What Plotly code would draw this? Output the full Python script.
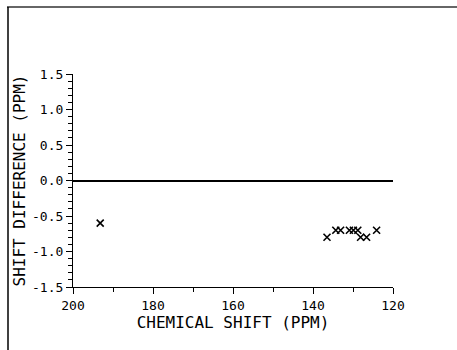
import plotly.graph_objects as go

# Chemical shift (ppm) and shift difference (ppm) of each resonance
chem_shift = [193.2, 136.5, 134.3, 133.1, 130.9, 129.9, 128.8, 128.1, 126.6, 124.1]
shift_diff = [-0.6, -0.8, -0.7, -0.7, -0.7, -0.7, -0.7, -0.8, -0.8, -0.7]

x_ticks = [200, 180, 160, 140, 120]
y_ticks = [1.5, 1.0, 0.5, 0.0, -0.5, -1.0, -1.5]

FONT = "DejaVu Sans Mono"

fig = go.Figure()
fig.add_trace(go.Scatter(
    x=chem_shift, y=shift_diff, mode="markers",
    marker=dict(symbol="x-thin", size=7, color="black",
                line=dict(width=1.6, color="black")),
    showlegend=False,
))

fig.update_layout(
    width=457, height=350,
    margin=dict(l=73, r=64, t=74, b=63),
    paper_bgcolor="white", plot_bgcolor="white",
    font=dict(family=FONT, color="black", size=12),
    xaxis=dict(
        range=[200, 120], tickvals=x_ticks, ticktext=[str(v) for v in x_ticks],
        showgrid=False, zeroline=False, showline=True, linecolor="black", linewidth=1.2,
        ticks="outside", ticklen=6, tickwidth=1.2, tickcolor="black",
        minor=dict(dtick=10, tick0=200, ticks="outside", ticklen=4, tickcolor="black"),
        title=dict(text="CHEMICAL SHIFT (PPM)", font=dict(family=FONT, size=16), standoff=3),
        tickfont=dict(family=FONT, size=13),
    ),
    yaxis=dict(
        range=[-1.5, 1.5], tickvals=y_ticks, ticktext=[f"{v:.1f}" for v in y_ticks],
        showgrid=False, zeroline=True, zerolinecolor="black", zerolinewidth=1.5,
        showline=True, linecolor="black", linewidth=1.2,
        ticks="outside", ticklen=6, tickwidth=1.2, tickcolor="black",
        minor=dict(dtick=0.1, tick0=0, ticks="outside", ticklen=4, tickcolor="black"),
        title=dict(text="SHIFT DIFFERENCE (PPM)", font=dict(family=FONT, size=16), standoff=2),
        tickfont=dict(family=FONT, size=13),
    ),
    shapes=[
        # page frame: top and left rules
        dict(type="line", xref="paper", yref="paper",
             x0=(7 - 73) / 320, x1=(457 - 73) / 320,
             y0=(287 - 7) / 213, y1=(287 - 7) / 213,
             line=dict(color="#666666", width=2)),
        dict(type="line", xref="paper", yref="paper",
             x0=(8 - 73) / 320, x1=(8 - 73) / 320,
             y0=(287 - 7) / 213, y1=(287 - 350) / 213,
             line=dict(color="black", width=1.5)),
    ],
)

fig.write_html("out.html")
